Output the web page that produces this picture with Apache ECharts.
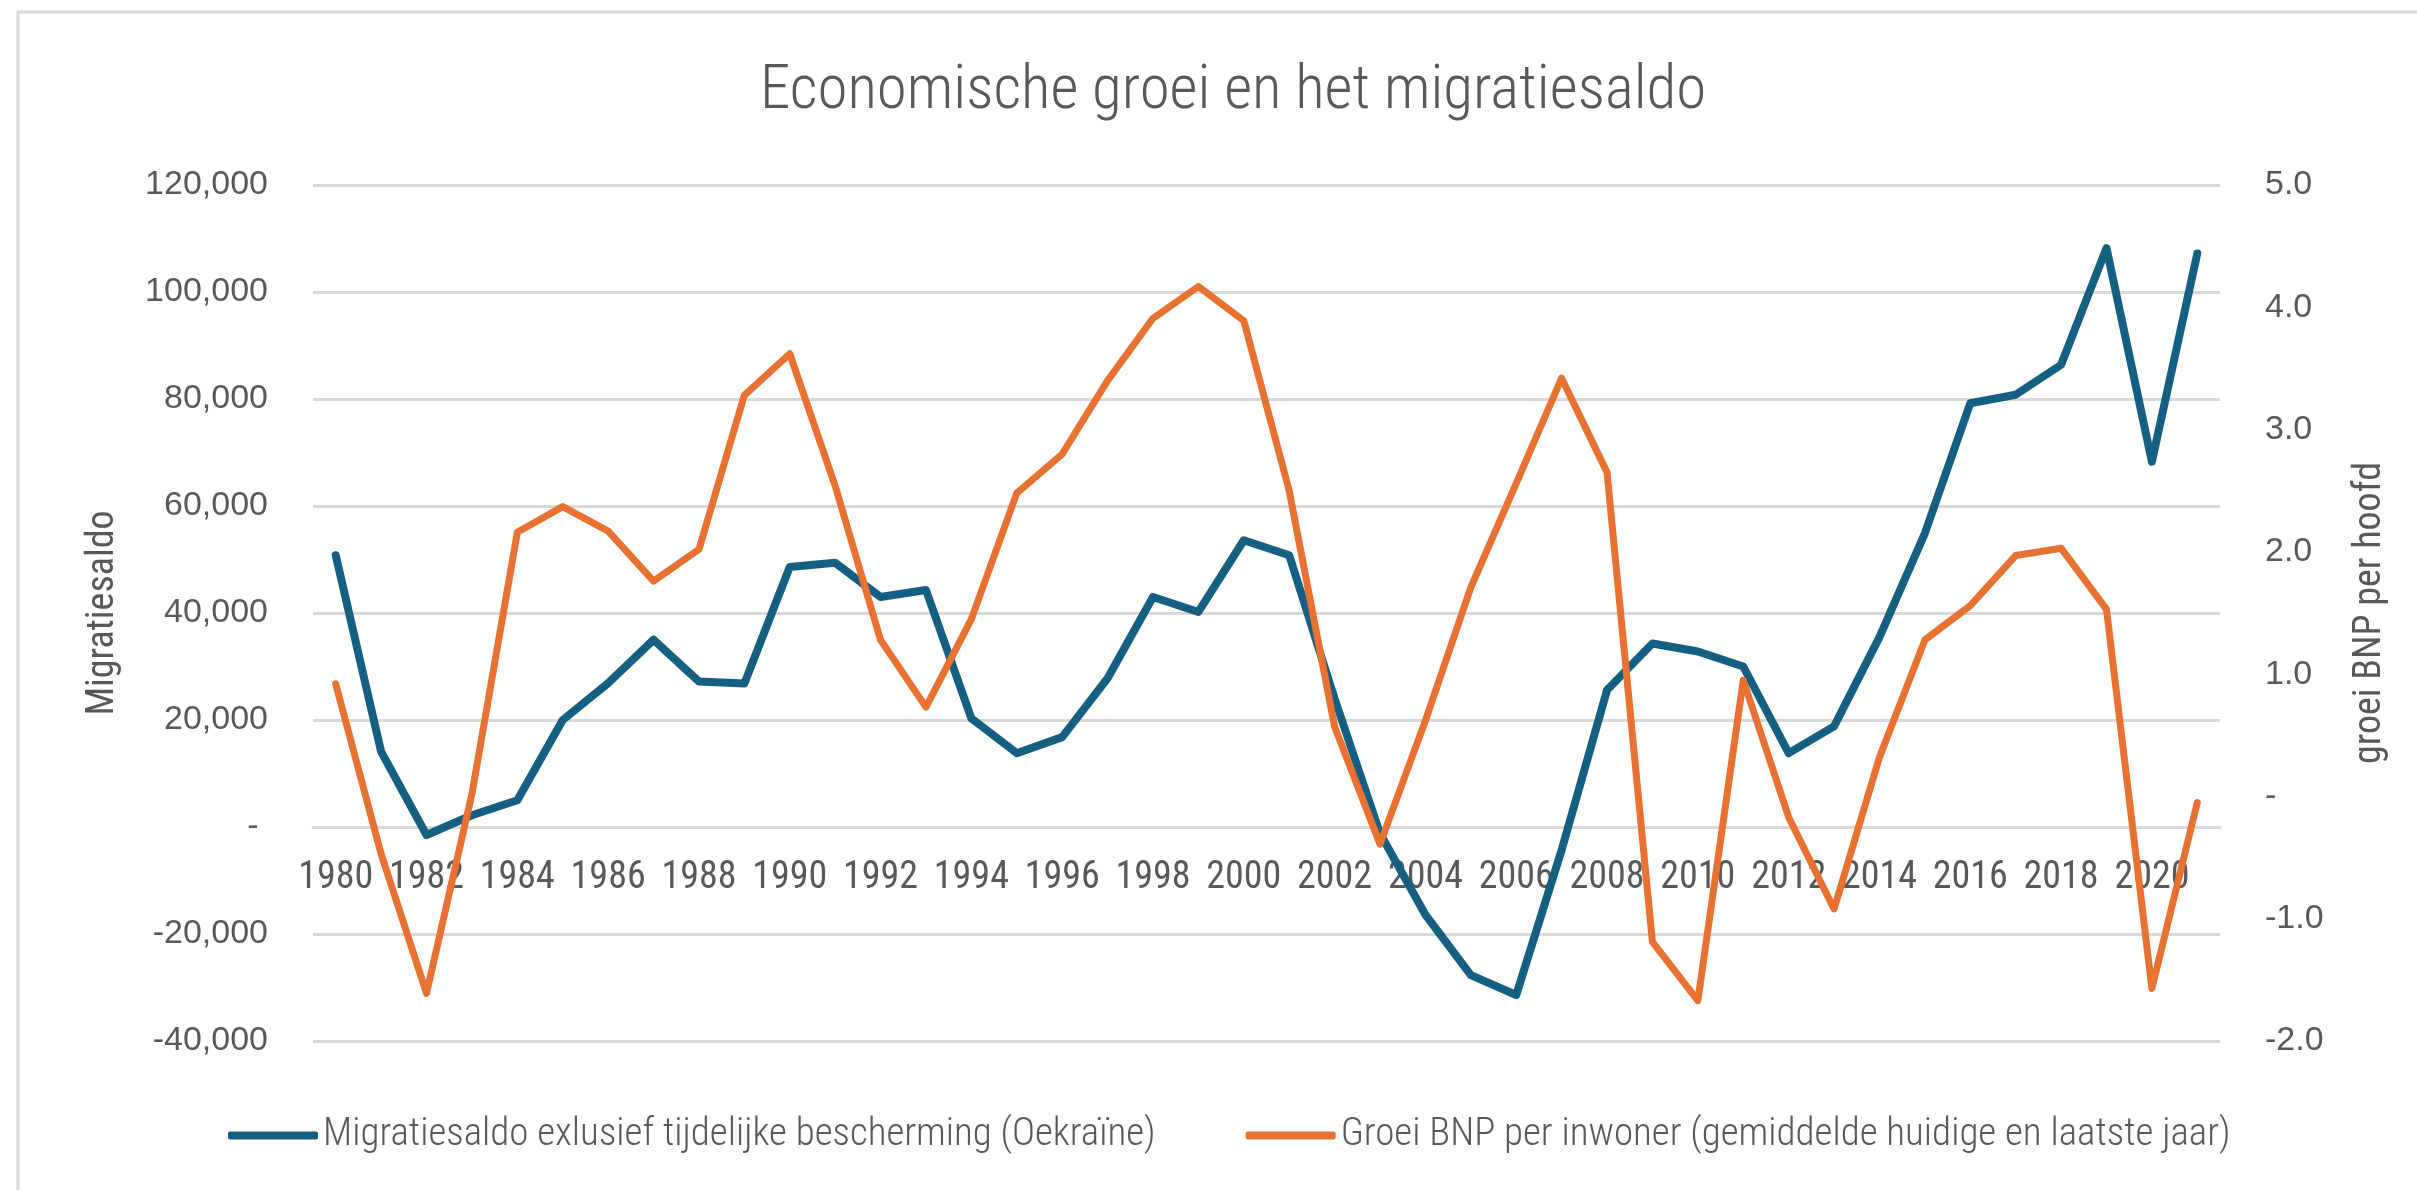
<!DOCTYPE html>
<html>
<head>
<meta charset="utf-8">
<script src="https://cdn.jsdelivr.net/npm/echarts@6/dist/echarts.min.js"></script>
<style>
html,body{margin:0;padding:0;background:#ffffff;}
#c{width:2417px;height:1190px;}
</style>
</head>
<body>
<div id="c"></div>
<script>
// ---- Data ----
const years = ['1980','1981','1982','1983','1984','1985','1986','1987','1988','1989',
  '1990','1991','1992','1993','1994','1995','1996','1997','1998','1999',
  '2000','2001','2002','2003','2004','2005','2006','2007','2008','2009',
  '2010','2011','2012','2013','2014','2015','2016','2017','2018','2019',
  '2020','2021'];

const migratiesaldo = [50800, 14100, -1500, 2200, 5000, 20000, 26900, 35000, 27200, 26800,
  48600, 49400, 43000, 44300, 20300, 13800, 16800, 27800, 43000, 40200,
  53600, 50800, 24000, -1200, -16400, -27700, -31400, -4300, 25600, 34300,
  32800, 30000, 13800, 18800, 35500, 54900, 79200, 80800, 86400, 108200,
  68300, 107200];

const groeiBNP = [0.92, -0.47, -1.61, 0.02, 2.16, 2.37, 2.17, 1.76, 2.02, 3.28,
  3.62, 2.54, 1.28, 0.73, 1.45, 2.48, 2.80, 3.40, 3.91, 4.17,
  3.89, 2.50, 0.57, -0.39, 0.62, 1.71, 2.56, 3.42, 2.65, -1.19,
  -1.67, 0.95, -0.17, -0.92, 0.32, 1.28, 1.56, 1.97, 2.03, 1.53,
  -1.57, -0.05];

const seriesNames = ['Migratiesaldo exlusief tijdelijke bescherming (Oekraïne)',
  'Groei BNP per inwoner (gemiddelde huidige en laatste jaar)'];
const titleText = 'Economische groei en het migratiesaldo';
const leftAxisName = 'Migratiesaldo';
const rightAxisName = 'groei BNP per hoofd';

// ---- Styles ----
const NARROW = '"Roboto Condensed", Roboto, sans-serif';
const REG = '"Liberation Sans", Arial, sans-serif';
const TXT = '#595959';
const GRID = '#d9d9d9';
const BLUE = '#156082';
const ORANGE = '#E97132';

function fmtThousands(v) {
  if (v === 0) return '- ';
  const s = Math.abs(v).toString().replace(/\B(?=(\d{3})+(?!\d))/g, ',');
  return (v < 0 ? '-' : '') + s;
}

const chart = echarts.init(document.getElementById('c'), null, {renderer: 'canvas'});
chart.setOption({
  animation: false,
  backgroundColor: '#ffffff',
  graphic: [{
    type: 'rect', z: -10, silent: true,
    shape: {x: 18, y: 12, width: 2600, height: 1400},
    style: {fill: 'none', stroke: GRID, lineWidth: 3}
  }],
  title: {
    text: titleText,
    left: 755, top: 57,
    textStyle: {fontFamily: NARROW, fontStyle: 'condensed', fontSize: 61, fontWeight: 300, color: TXT}
  },
  legend: {
    left: 223, top: 1111,
    icon: 'roundRect', itemWidth: 90, itemHeight: 8, itemGap: 90,
    textStyle: {fontFamily: NARROW, fontStyle: 'condensed', fontWeight: 300, fontSize: 39, color: TXT},
    data: seriesNames
  },
  grid: {left: 313, right: 197, top: 185, bottom: 149, containLabel: false},
  xAxis: {
    type: 'category',
    data: years,
    boundaryGap: true,
    position: 'bottom',
    offset: -214,
    axisLine: {show: true, onZero: false, lineStyle: {color: GRID, width: 3}},
    axisTick: {show: false},
    axisLabel: {interval: 1, margin: 32, fontFamily: NARROW, fontStyle: 'condensed', fontSize: 38, color: TXT},
    splitLine: {show: false}
  },
  yAxis: [{
    type: 'value',
    min: -40000, max: 120000, interval: 20000,
    name: leftAxisName, nameLocation: 'middle', nameRotate: 90, nameGap: 191,
    nameTextStyle: {fontFamily: NARROW, fontStyle: 'condensed', fontSize: 38, color: TXT},
    axisLine: {show: false}, axisTick: {show: false},
    axisLabel: {margin: 45, fontFamily: REG, fontSize: 34, color: TXT, formatter: fmtThousands},
    splitLine: {show: true, lineStyle: {color: GRID, width: 3}}
  }, {
    type: 'value',
    min: -2, max: 5, interval: 1,
    name: rightAxisName, nameLocation: 'middle', nameRotate: 90, nameGap: 131,
    nameTextStyle: {fontFamily: NARROW, fontStyle: 'condensed', fontSize: 38, color: TXT},
    axisLine: {show: false}, axisTick: {show: false},
    axisLabel: {margin: 45, fontFamily: REG, fontSize: 34, color: TXT,
      formatter: function (v) { return v === 0 ? '-' : v.toFixed(1); }},
    splitLine: {show: false}
  }],
  series: [{
    name: seriesNames[0], type: 'line', yAxisIndex: 0,
    data: migratiesaldo, symbol: 'none', color: BLUE,
    lineStyle: {color: BLUE, width: 8, cap: 'round', join: 'round'}
  }, {
    name: seriesNames[1], type: 'line', yAxisIndex: 1,
    data: groeiBNP, symbol: 'none', color: ORANGE,
    lineStyle: {color: ORANGE, width: 7, cap: 'round', join: 'round'}
  }]
});
</script>
</body>
</html>
